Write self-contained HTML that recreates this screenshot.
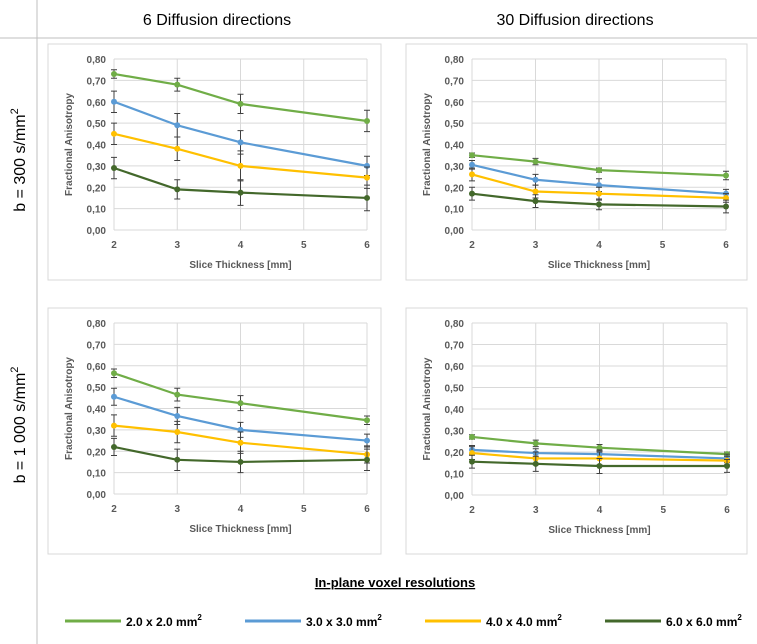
<!DOCTYPE html>
<html><head><meta charset="utf-8"><style>
body{margin:0;background:#fff;width:757px;height:644px;overflow:hidden;font-family:"Liberation Sans",sans-serif;}
svg{display:block}
</style></head><body>
<svg id="s" width="757" height="644" xmlns="http://www.w3.org/2000/svg">
<line x1="37" y1="0" x2="37" y2="644" stroke="#bfbfbf"/>
<line x1="0" y1="38" x2="757" y2="38" stroke="#bfbfbf"/>
<text x="217" y="25" font-size="16" text-anchor="middle" fill="#000">6 Diffusion directions</text>
<text x="575" y="25" font-size="16" text-anchor="middle" fill="#000">30 Diffusion directions</text>
<text transform="translate(25,160) rotate(-90)" font-size="16" text-anchor="middle">b = 300 s/mm<tspan dy="-7" font-size="11">2</tspan></text>
<text transform="translate(25,425) rotate(-90)" font-size="16" text-anchor="middle">b = 1 000 s/mm<tspan dy="-7" font-size="11">2</tspan></text>
<text x="395" y="587" font-size="13" font-weight="bold" text-anchor="middle" text-decoration="underline">In-plane voxel resolutions</text>
<g id="legend"></g>
</svg>
<script>
const xCats=[2,3,4,5,6];
const xPts=[2,3,4,6];
const yTicks=[0,0.1,0.2,0.3,0.4,0.5,0.6,0.7,0.8];
const seriesNames=["2.0 x 2.0 mm","3.0 x 3.0 mm","4.0 x 4.0 mm","6.0 x 6.0 mm"];
const colors=["#70ad47","#5b9bd5","#ffc000","#43682b"];
const tlVals=[[0.73,0.68,0.59,0.51],[0.60,0.49,0.41,0.30],[0.45,0.38,0.30,0.245],[0.29,0.19,0.175,0.15]];
const tlErr=[[0.02,0.03,0.045,0.05],[0.05,0.055,0.055,0.045],[0.05,0.055,0.07,0.05],[0.05,0.045,0.06,0.06]];
const trVals=[[0.35,0.32,0.28,0.255],[0.305,0.235,0.21,0.17],[0.26,0.18,0.17,0.15],[0.17,0.135,0.12,0.11]];
const trErr=[[0.01,0.015,0.01,0.02],[0.02,0.025,0.03,0.02],[0.03,0.03,0.03,0.02],[0.03,0.03,0.025,0.03]];
const blVals=[[0.565,0.465,0.425,0.345],[0.455,0.365,0.30,0.25],[0.32,0.29,0.24,0.185],[0.22,0.16,0.15,0.16]];
const blErr=[[0.02,0.03,0.035,0.02],[0.04,0.04,0.035,0.03],[0.05,0.05,0.05,0.04],[0.04,0.05,0.05,0.05]];
const brVals=[[0.27,0.24,0.22,0.19],[0.21,0.195,0.19,0.17],[0.195,0.17,0.17,0.16],[0.155,0.145,0.135,0.135]];
const brErr=[[0.01,0.015,0.015,0.01],[0.02,0.02,0.02,0.02],[0.03,0.03,0.03,0.02],[0.03,0.035,0.035,0.03]];

const NS="http://www.w3.org/2000/svg";
const svg=document.getElementById('s');
function mk(tag,attrs,parent){const e=document.createElementNS(NS,tag);for(const k in attrs)e.setAttribute(k,attrs[k]);(parent||svg).appendChild(e);return e;}
function chart(name,box,x0,x1,yTop,yBot,vals,errs){
  const g=mk('g',{});
  
  
  const fr=mk('rect',{x:box[0],y:box[1],width:box[2],height:box[3],fill:'#fff',stroke:'#d9d9d9'},g);
  
  
  const xs=v=>x0+(v-2)/4*(x1-x0);
  const ys=v=>yBot-v/0.8*(yBot-yTop);
  yTicks.forEach(t=>{
    const l=mk('line',{x1:x0,x2:x1,y1:ys(t),y2:ys(t),stroke:'#d9d9d9'},g);
    
    
    const tx=mk('text',{x:x0-8,y:ys(t)+4,'font-size':10,'font-weight':'bold',fill:'#595959','text-anchor':'end'},g);
    tx.textContent=t.toFixed(2).replace('.',',');
    
    
  });
  xCats.forEach(c=>{
    const l=mk('line',{x1:xs(c),x2:xs(c),y1:yTop,y2:yBot,stroke:'#d9d9d9'},g);
    
    
    const tx=mk('text',{x:xs(c),y:yBot+18,'font-size':10,'font-weight':'bold',fill:'#595959','text-anchor':'middle'},g);
    tx.textContent=c;
    
    
  });
  const xt=mk('text',{x:(x0+x1)/2,y:yBot+38,'font-size':10,'font-weight':'bold',fill:'#595959','text-anchor':'middle'},g);
  xt.textContent='Slice Thickness [mm]';
  
  
  const yt=mk('text',{transform:`translate(${x0-42},${(yTop+yBot)/2}) rotate(-90)`,'font-size':10,'font-weight':'bold',fill:'#595959','text-anchor':'middle'},g);
  yt.textContent='Fractional Anisotropy';
  
  
  vals.forEach((s,i)=>{
    const p=mk('polyline',{points:s.map((v,j)=>xs(xPts[j])+','+ys(v)).join(' '),fill:'none',stroke:colors[i],'stroke-width':2.2},g);
    
    
    s.forEach((v,j)=>{
      const cx=xs(xPts[j]),e=errs[i][j];
      const eb=mk('path',{d:`M${cx},${ys(v+e)}V${ys(v-e)}M${cx-3},${ys(v+e)}h6M${cx-3},${ys(v-e)}h6`,stroke:'#404040','stroke-width':1,fill:'none'},g);
      
      
      const c=mk('circle',{cx:cx,cy:ys(v),r:3,fill:colors[i]},g);
      
      
    });
  });
}
chart('chart-b300-6dir',[48,44,333,236],114,367,59,230,tlVals,tlErr);
chart('chart-b300-30dir',[406,44,341,236],472,726,59,230,trVals,trErr);
chart('chart-b1000-6dir',[48,308,333,246],114,367,323,494,blVals,blErr);
chart('chart-b1000-30dir',[406,308,341,246],472,727,323,495,brVals,brErr);
const lg=document.getElementById('legend');
seriesNames.forEach((n,i)=>{
  const bx=[65,245,425,605][i];
  const l=mk('line',{x1:bx,x2:bx+56,y1:621,y2:621,stroke:colors[i],'stroke-width':3},lg);
  
  
  const t=mk('text',{x:bx+61,y:626,'font-size':12,'font-weight':'bold',fill:'#000'},lg);
  t.textContent=n;
  const sp=mk('tspan',{dy:-6,'font-size':8},t);
  sp.textContent='2';
  
  
});
</script>
</body></html>
